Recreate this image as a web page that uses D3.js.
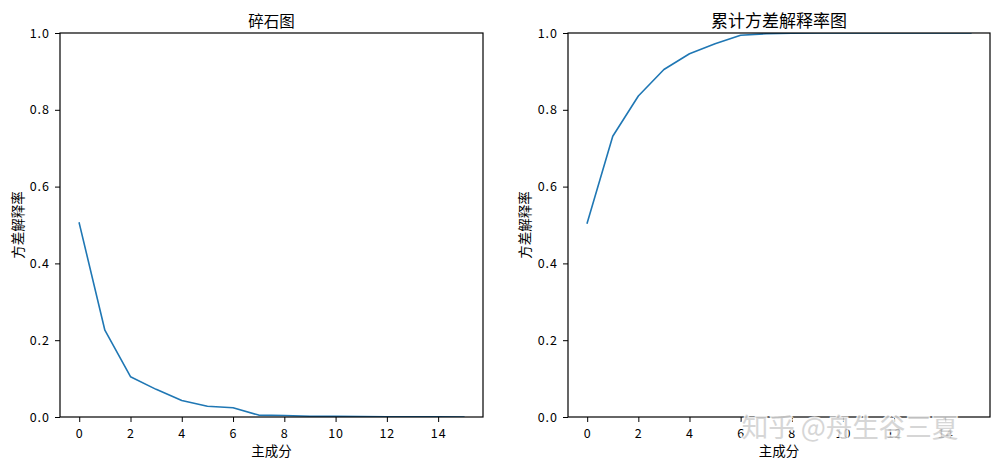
<!DOCTYPE html>
<html><head><meta charset="utf-8">
<script src="https://cdn.jsdelivr.net/npm/d3@7"></script>
<style>
body{margin:0;background:#fff;}
svg{display:block;}
.tick text{font-family:"Noto Sans CJK SC","Noto Sans",sans-serif;font-size:12.5px;letter-spacing:1px;fill:#000;}
.lbl{font-family:"Noto Sans CJK SC","Noto Sans",sans-serif;fill:#000;}
</style></head>
<body><svg id="c" width="999" height="467"></svg>
<script>
// data
const components = [0,1,2,3,4,5,6,7,8,9,10,11,12,13,14,15];
const varianceRatio = [0.505,0.226,0.105,0.072,0.043,0.028,0.024,0.005,0.004,0.002,0.0015,0.001,0.0008,0.0006,0.0004,0.0002];
const cumulativeRatio = [0.505,0.731,0.836,0.905,0.946,0.972,0.994,0.998,0.9995,1.0,1.0,1.0,1.0,1.0,1.0,1.0];
const xTicks = [0,2,4,6,8,10,12,14];
const yTicks = [0,0.2,0.4,0.6,0.8,1.0];
const titles = ["碎石图","累计方差解释率图"];
const xLabel = "主成分";
const yLabel = "方差解释率";
const watermark = "知乎 @舟生谷三夏";

const svg = d3.select("#c");
const panels = [
  {x0:60, x1:483, values:varianceRatio, title:titles[0], tfs:15.5, ylx:22.5},
  {x0:568, x1:990, values:cumulativeRatio, title:titles[1], tfs:17, ylx:530}
];
const plotTop = 33, plotBottom = 417;
const y = d3.scaleLinear().domain([0,1]).range([plotBottom, plotTop]);

panels.forEach((p, k) => {
  const x = d3.scaleLinear().domain([-0.75, 15.75]).range([p.x0, p.x1]);
  const g = svg.append("g");
  g.append("clipPath").attr("id","clip"+k).append("rect")
    .attr("x",p.x0).attr("y",plotTop).attr("width",p.x1-p.x0).attr("height",plotBottom-plotTop);
  const line = d3.line().x((d,i)=>x(components[i])).y(d=>y(d));
  g.append("path").datum(p.values).attr("d",line).attr("fill","none").attr("clip-path",`url(#clip${k})`)
    .attr("stroke","#1f77b4").attr("stroke-width",1.6).attr("stroke-linejoin","round").attr("stroke-linecap","square");
  g.append("rect").attr("x",p.x0).attr("y",plotTop).attr("width",p.x1-p.x0).attr("height",plotBottom-plotTop)
    .attr("fill","none").attr("stroke","#000").attr("stroke-width",1.2);
  const xa = g.append("g").attr("transform",`translate(0,${plotBottom})`)
    .call(d3.axisBottom(x).tickValues(xTicks).tickSize(5).tickPadding(7).tickFormat(d3.format("d")));
  const ya = g.append("g").attr("transform",`translate(${p.x0},0)`)
    .call(d3.axisLeft(y).tickValues(yTicks).tickSize(5).tickPadding(5).tickFormat(d3.format(".1f")));
  [xa,ya].forEach(a=>{a.select(".domain").remove(); a.selectAll(".tick line").attr("stroke","#000").attr("stroke-width",1);});
  g.append("text").attr("class","lbl").attr("x",(p.x0+p.x1)/2).attr("y",26.5)
    .attr("text-anchor","middle").attr("font-size",p.tfs).text(p.title);
  g.append("text").attr("class","lbl").attr("x",(p.x0+p.x1)/2).attr("y",456)
    .attr("text-anchor","middle").attr("font-size",13.5).text(xLabel);
  g.append("text").attr("class","lbl").attr("transform",`translate(${p.ylx},${(plotTop+plotBottom)/2}) rotate(-90)`)
    .attr("text-anchor","middle").attr("font-size",13.5).text(yLabel);
});

svg.append("text").attr("class","lbl").attr("x",850).attr("y",437)
  .attr("text-anchor","middle").attr("font-size",26.5)
  .attr("stroke","#fff").attr("stroke-width",3).attr("opacity",0.85)
  .attr("paint-order","stroke").style("fill","#cfcfcf").text(watermark);
</script></body></html>
